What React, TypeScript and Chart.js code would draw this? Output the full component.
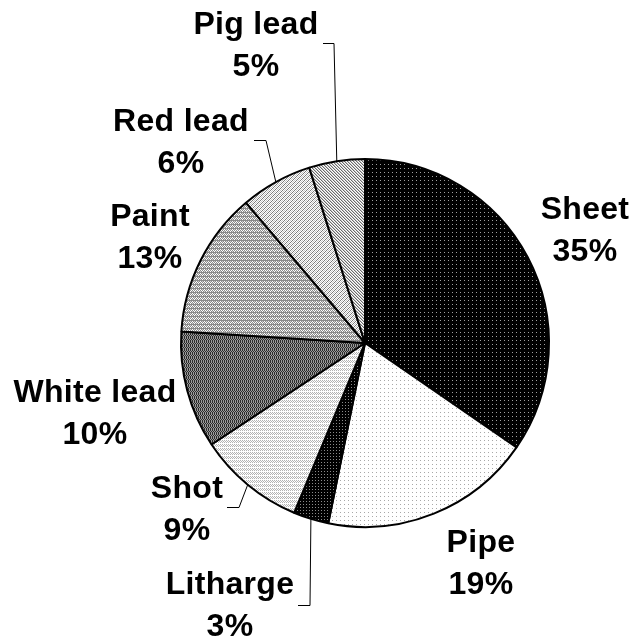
import React, { useEffect, useRef } from "react";
import { Chart, registerables } from "chart.js";

Chart.register(...registerables);

// ---- data ----
const categories = ["Sheet", "Pipe", "Litharge", "Shot", "White lead", "Paint", "Red lead", "Pig lead"];
const shares = [34.6, 18.6, 3.1, 9.4, 10.3, 12.8, 6.3, 4.9];

// ---- layout (label anchor: centre x, first-line baseline y) ----
const labelPos: [number, number][] = [
  [585, 219],
  [481, 552],
  [230, 594],
  [187, 498],
  [95, 402],
  [150, 226],
  [181, 131],
  [256, 34],
];
const lineGap = 42;
// leader lines: [x near pie, x far, y of horizontal segment]
const leaders: ([number, number, number] | null)[] = [
  null,
  null,
  [310, 298, 605],
  [239, 227, 507],
  null,
  null,
  [266, 254, 140],
  [334, 323, 43],
];

type Tile = string[][];

function makePattern(tile: Tile): CanvasPattern | string {
  const h = tile.length;
  const w = tile[0].length;
  const c = document.createElement("canvas");
  c.width = w;
  c.height = h;
  const g = c.getContext("2d");
  if (!g) return "#888";
  for (let y = 0; y < h; y++) {
    for (let x = 0; x < w; x++) {
      g.fillStyle = tile[y][x];
      g.fillRect(x, y, 1, 1);
    }
  }
  const p = g.createPattern(c, "repeat");
  return p || "#888";
}

function buildPatterns() {
  const K = "#000000";
  const W = "#ffffff";
  const sheet: Tile = [
    ["#a0a0a0", K, K, K],
    [K, K, K, K],
    [K, K, K, K],
    [K, K, K, K],
  ];
  const pipe: Tile = [
    ["#a8a8a8", W, W, W],
    [W, W, W, W],
    [W, W, W, W],
    [W, W, W, W],
  ];
  const lith: Tile = [
    ["#8a8a8a", K, K],
    [K, K, K],
    [K, K, K],
  ];
  const g1 = "#b4b4b4";
  const shot: Tile = [
    [g1, W, g1, W],
    [W, g1, W, g1],
    [g1, W, g1, W],
    [W, W, W, W],
  ];
  const d = "#2c2c2c";
  const m = "#9a9a9a";
  const whiteLead: Tile = [
    [d, m, d, m],
    [d, m, d, m],
    [d, m, d, m],
    [m, d, m, d],
  ];
  const p1 = "#8a8a8a";
  const p2 = "#d0d0d0";
  const paint: Tile = [
    [p1, p1, p1, p1],
    [W, p1, p2, p1],
    [p1, W, p1, W],
    [p2, p1, W, p1],
  ];
  const redLead: Tile = [];
  for (let y = 0; y < 4; y++) {
    const row: string[] = [];
    for (let x = 0; x < 4; x++) {
      const k = (x + y) % 4;
      row.push(k === 0 ? "#7a7a7a" : k === 2 ? "#c4c4c4" : W);
    }
    redLead.push(row);
  }
  const pigLead: Tile = [];
  for (let y = 0; y < 3; y++) {
    const row: string[] = [];
    for (let x = 0; x < 3; x++) {
      const k = (x - y + 9) % 3;
      row.push(k === 0 ? "#6a6a6a" : k === 1 ? "#c8c8c8" : W);
    }
    pigLead.push(row);
  }
  return [sheet, pipe, lith, shot, whiteLead, paint, redLead, pigLead].map(makePattern);
}

const labelPlugin = {
  id: "pieLabels",
  afterDraw(chart: any) {
    const ctx: CanvasRenderingContext2D = chart.ctx;
    const meta = chart.getDatasetMeta(0);
    const data: number[] = chart.data.datasets[0].data;
    const total = data.reduce((a, b) => a + b, 0);
    ctx.save();
    // leader lines
    ctx.strokeStyle = "#000";
    ctx.lineWidth = 1;
    meta.data.forEach((arc: any, i: number) => {
      const ld = leaders[i];
      if (!ld) return;
      const mid = (arc.startAngle + arc.endAngle) / 2;
      const ex = arc.x + Math.cos(mid) * arc.outerRadius;
      const ey = arc.y + Math.sin(mid) * arc.outerRadius;
      ctx.beginPath();
      ctx.moveTo(ld[1], ld[2] + 0.5);
      ctx.lineTo(ld[0], ld[2] + 0.5);
      ctx.lineTo(ex, ey);
      ctx.stroke();
    });
    // labels
    ctx.fillStyle = "#000";
    ctx.font = "bold 32px 'Liberation Sans', Arial, sans-serif";
    (ctx as any).letterSpacing = "0.3px";
    ctx.textAlign = "center";
    ctx.textBaseline = "alphabetic";
    chart.data.labels.forEach((lab: string, i: number) => {
      const [x, y] = labelPos[i];
      const pct = Math.round((data[i] / total) * 100) + "%";
      ctx.fillText(lab, x, y);
      ctx.fillText(pct, x, y + lineGap);
    });
    ctx.restore();
  },
};

export default function App() {
  const ref = useRef<HTMLCanvasElement | null>(null);
  useEffect(() => {
    if (!ref.current) return;
    const patterns = buildPatterns();
    const chart = new Chart(ref.current, {
      type: "pie",
      data: {
        labels: categories,
        datasets: [
          {
            data: shares,
            backgroundColor: patterns as any,
            borderColor: "#000000",
            borderWidth: 2,
          },
        ],
      },
      options: {
        responsive: false,
        animation: false,
        devicePixelRatio: 1,
        layout: { padding: { left: 180, right: 80, top: 158, bottom: 112 } },
        plugins: {
          legend: { display: false },
          tooltip: { enabled: false },
        },
      },
      plugins: [labelPlugin],
    });
    return () => chart.destroy();
  }, []);
  return (
    <div style={{ position: "absolute", left: 0, top: 0, width: 630, height: 640, background: "#fff" }}>
      <canvas ref={ref} width={630} height={640} style={{ display: "block" }} />
    </div>
  );
}
